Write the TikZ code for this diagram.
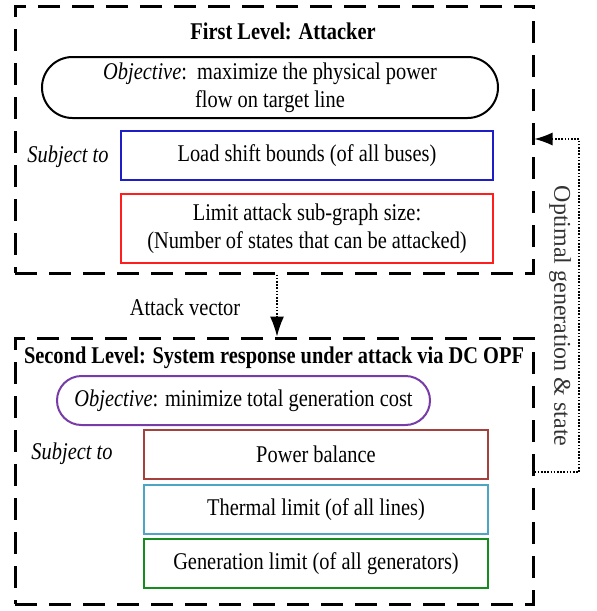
\documentclass[tikz,border=0pt]{standalone}
\usepackage{fontspec}
\setmainfont{Liberation Serif}[FakeStretch=0.85]
\newfontfamily\plainserif{Liberation Serif}
\usetikzlibrary{arrows.meta,shapes.misc}
\definecolor{blueC}{RGB}{30,30,200}
\definecolor{redC}{RGB}{255,30,30}
\definecolor{brownC}{RGB}{165,65,60}
\definecolor{tealC}{RGB}{75,165,195}
\definecolor{greenC}{RGB}{20,140,30}
\definecolor{purpleC}{RGB}{120,60,170}
\tikzset{
  dashbox/.style={draw, line width=3pt, dash pattern=on 22pt off 12pt, inner sep=0pt, outer sep=0pt},
  cbox/.style={draw=#1, line width=2.2pt, inner sep=0pt, minimum width=372pt, minimum height=49pt, align=center},
  stadium/.style={draw=#1, rounded rectangle, line width=2pt, inner sep=0pt, align=center},
  dotline/.style={line width=1.2pt, dash pattern=on 1.6pt off 1.6pt},
  vtip/.style={line width=1.2pt, solid, -{Latex[length=20pt,width=14pt]}},
  htip/.style={line width=1.2pt, solid, -{Latex[length=18pt,width=13pt]}},
  txt/.style={inner sep=0pt, align=center},
}
\begin{document}
\begin{tikzpicture}[x=1pt,y=-1pt,font=\fontsize{24}{28}\selectfont]
\useasboundingbox (0,0) rectangle (597,611);
% first level
\node[dashbox, minimum width=518pt, minimum height=267pt] (top) at (274,139.5) {};
\node[txt, font=\fontsize{24}{28}\selectfont\bfseries] (t1) at (283,31) {First Level: Attacker};
\node[stadium=black, minimum width=456pt, minimum height=61pt] (obj1) at (270,87.5) {\textit{Objective}:\ \ maximize the physical power\\flow on target line};
\node[txt, font=\fontsize{24}{28}\selectfont\itshape] (s1) at (68,157) {Subject to};
\node[cbox=blueC] (load) at (307,155.5) {Load shift bounds (of all buses)};
\node[cbox=redC, minimum height=69pt] (lim) at (307,228.5) {Limit attack sub-graph size:\\(Number of states that can be attacked)};
% second level
\node[dashbox, minimum width=518pt, minimum height=266pt] (bot) at (274,471) {};
\node[txt, font=\fontsize{24}{28}\selectfont\bfseries] (t2) at (274,358) {Second Level: System response under attack via DC OPF};
\node[stadium=purpleC, minimum width=373pt, minimum height=49pt] (obj2) at (243.5,400.5) {\textit{Objective}: minimize total generation cost};
\node[txt, font=\fontsize{24}{28}\selectfont\itshape] (s2) at (72,454) {Subject to};
\node[cbox=brownC, minimum width=344pt] (pb) at (316,454.5) {Power balance};
\node[cbox=tealC, minimum width=344pt] (th) at (316,509.5) {Thermal limit (of all lines)};
\node[cbox=greenC, minimum width=344pt] (gen) at (316,563.5) {Generation limit (of all generators)};
% connectors
\draw[dotline] ([xshift=3pt,yshift=-1.5pt]top.south) -- ([xshift=3pt,yshift=17pt]bot.north);
\draw[vtip] ([xshift=3pt,yshift=18pt]bot.north) -- ([xshift=3pt,yshift=1.5pt]bot.north);
\node[txt] (av) at (185,307) {Attack vector};
\coordinate (fb) at (579,472);
\coordinate (fe) at (579,139);
\draw[dotline] ([xshift=1.5pt]bot.east |- fb) -- (fb) -- (fe) -- ([xshift=16pt]top.east |- fe);
\draw[htip] ([xshift=17pt]top.east |- fe) -- ([xshift=1.5pt]top.east |- fe);
\node[txt, rotate=-90, font=\plainserif\fontsize{24}{28}\selectfont, text=black!80] (og) at (560,316) {Optimal generation \& state};
\end{tikzpicture}
\end{document}
